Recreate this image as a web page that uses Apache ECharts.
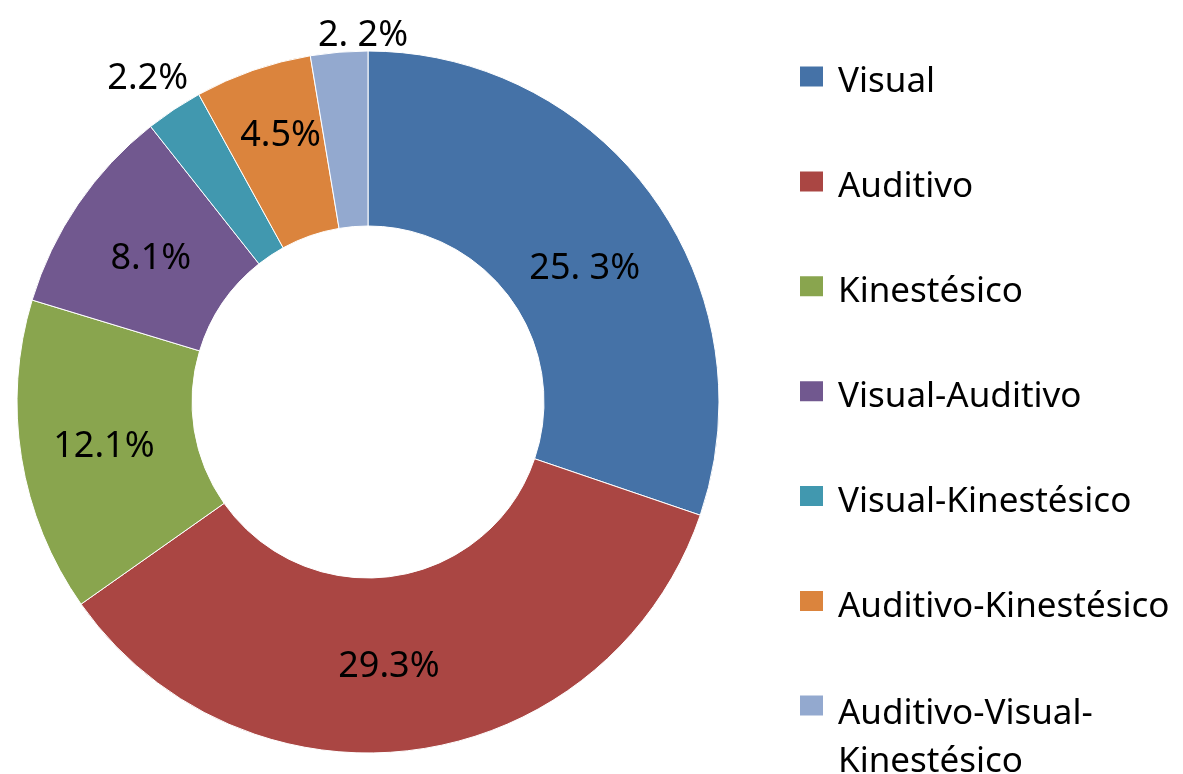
<!DOCTYPE html>
<html>
<head>
<meta charset="utf-8">
<script src="https://cdn.jsdelivr.net/npm/echarts@6/dist/echarts.min.js"></script>
<style>
html,body{margin:0;padding:0;background:#fff;}
#chart{width:1183px;height:774px;}
</style>
</head>
<body>
<div id="chart"></div>
<script>
const categories = ['Visual', 'Auditivo', 'Kinestésico', 'Visual-Auditivo', 'Visual-Kinestésico', 'Auditivo-Kinestésico', 'Auditivo-Visual-Kinestésico'];
const values = [25.3, 29.3, 12.1, 8.1, 2.2, 4.5, 2.2];
const labelTexts = ['25. 3%', '29.3%', '12.1%', '8.1%', '2.2%', '4.5%', '2. 2%'];
const colors = ['#4572A7', '#AA4643', '#89A54E', '#71588F', '#4198AF', '#DB843D', '#93A9CF'];
// label nudges (pixels) to mimic the original label placement
const labelShift = [[0, 22], [-17, 1], [-1, 2], [3, 7], [-73, -101], [0, -14], [17, -101]];

const FONT = 'Noto Sans';
const TXT = '#000';
const chart = echarts.init(document.getElementById('chart'), null, {renderer: 'canvas'});

chart.setOption({
  animation: false,
  color: colors,
  legend: [{
    orient: 'vertical',
    left: 798,
    top: 58,
    padding: 0,
    itemWidth: 25,
    itemHeight: 22,
    itemGap: 62.9,
    icon: 'rect',
    selectedMode: false,
    formatter: function (name) { return '{s| }\n{t|' + name + '}'; },
    textStyle: {
      fontFamily: FONT, fontSize: 35, color: TXT, padding: [0, 0, 0, 9],
      rich: {
        s: {fontSize: 1, lineHeight: 12},
        t: {fontFamily: FONT, fontSize: 35, color: TXT, lineHeight: 36}
      }
    },
    data: categories.slice(0, 6)
  }, {
    orient: 'vertical',
    left: 798,
    top: 657,
    padding: 0,
    itemWidth: 25,
    itemHeight: 22,
    icon: 'rect',
    selectedMode: false,
    formatter: function (name) {
      const parts = name.replace('Visual-', 'Visual-\n').split('\n');
      return '{s| }\n' + parts.map(function (p) { return '{t|' + p + '}'; }).join('\n');
    },
    textStyle: {
      fontFamily: FONT, fontSize: 35, color: TXT, padding: [0, 0, 0, 9],
      rich: {
        s: {fontSize: 1, lineHeight: 66},
        t: {fontFamily: FONT, fontSize: 35, color: TXT, lineHeight: 48}
      }
    },
    data: categories.slice(6)
  }],
  series: [{
    type: 'pie',
    center: [368, 402],
    radius: [176, 351],
    startAngle: 90,
    clockwise: true,
    avoidLabelOverlap: false,
    itemStyle: {borderColor: '#ffffff', borderWidth: 1},
    label: {
      show: true,
      position: 'inside',
      fontFamily: FONT,
      fontSize: 36,
      color: TXT,
      formatter: function (p) { return labelTexts[p.dataIndex]; }
    },
    labelLine: {show: false},
    labelLayout: function (p) {
      const s = labelShift[p.dataIndex];
      return {dx: s[0], dy: s[1]};
    },
    emphasis: {disabled: true},
    data: categories.map(function (c, i) { return {name: c, value: values[i]}; })
  }]
});
</script>
</body>
</html>
